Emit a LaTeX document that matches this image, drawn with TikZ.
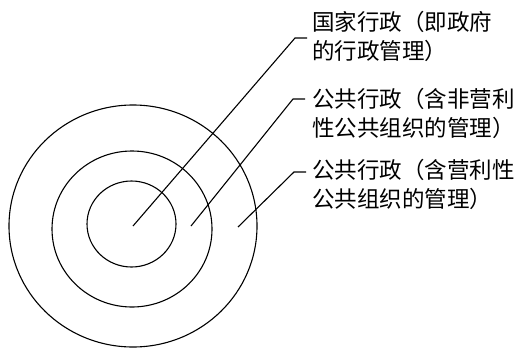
\documentclass[tikz,border=0pt]{standalone}
\usepackage{fontspec}
\newfontfamily\cjk{Noto Sans CJK SC}
\begin{document}
\begin{tikzpicture}[x=1pt,y=-1pt,
  ring/.style={draw=black, line width=1.1pt},
  leader/.style={draw=black, line width=1.1pt},
  label/.style={anchor=west, inner sep=0pt, align=left,
    font=\cjk\fontsize{22.5}{29}\selectfont}]
\useasboundingbox (0,0) rectangle (529,348);
% concentric rings
\draw[ring] (131.5,224) ellipse [x radius=44.5pt, y radius=43pt];
\draw[ring] (132,229) ellipse [x radius=80pt, y radius=78pt];
\draw[ring] (133,226) ellipse [x radius=124pt, y radius=121pt];
% labels
\node[label] (t1) at (312,36) {国家行政（即政府\\的行政管理）};
\node[label] (t2) at (312,113) {公共行政（含非营利\\性公共组织的管理）};
\node[label] (t3) at (312,184) {公共行政（含营利性\\公共组织的管理）};
% leader points
\coordinate (p1) at (133,226);
\coordinate (c1) at (295,38);
\coordinate (e1) at (307,38);
\coordinate (p2) at (191,226);
\coordinate (c2) at (293,99);
\coordinate (e2) at (305,99);
\coordinate (p3) at (238,227);
\coordinate (c3) at (294,172);
\coordinate (e3) at (306,172);
\draw[leader] (p1) -- (c1) -- (e1);
\draw[leader] (p2) -- (c2) -- (e2);
\draw[leader] (p3) -- (c3) -- (e3);
\end{tikzpicture}
\end{document}
